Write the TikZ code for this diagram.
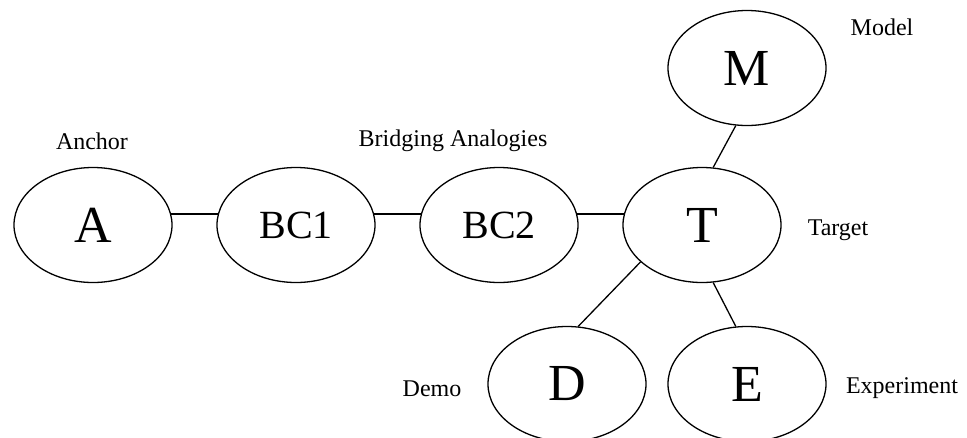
\documentclass[tikz,border=0pt]{standalone}
\usepackage{fontspec}
\setmainfont{Liberation Serif}
\usetikzlibrary{shapes.geometric}

\tikzset{
  blob/.style={draw, ellipse, line width=1.3pt, minimum width=158pt, minimum height=115pt, inner sep=0pt},
  bigtxt/.style={font=\fontsize{52}{56}\selectfont},
  midtxt/.style={font=\fontsize{40}{44}\selectfont},
  tag/.style={font=\fontsize{24}{28}\selectfont},
  link/.style={line width=1.3pt}
}

\begin{document}
\begin{tikzpicture}[x=1pt,y=-1pt]
        \useasboundingbox (0,0) rectangle (967,437);
        % ellipses
        \node[blob,bigtxt] (A) at (93,225) {A};
        \node[blob,midtxt] (BC1) at (296,225) {BC1};
        \node[blob,midtxt] (BC2) at (499,225) {BC2};
        \node[blob,bigtxt] (T) at (702,225) {T};
        \node[blob,bigtxt] (M) at (747,68) {M};
        \node[blob,bigtxt] (D) at (567,384) {D};
        \node[blob,bigtxt] (E) at (747,384) {E};
        % links
        \draw[link] (A.8) -- (BC1.172);
        \draw[link] (BC1.8) -- (BC2.172);
        \draw[link] (BC2.8) -- (T.172);
        \draw[link] (T.79) -- (M.259);
        \draw[link] (T.211) -- (D.79);
        \draw[link] (T.281) -- (E.101);
        % text
        \node[tag] (anchor) at (92,141) {Anchor};
        \node[tag] (bridge) at (453,141) {Bridging Analogies};
        \node[tag] (model) at (882,27) {Model};
        \node[tag] (target) at (838,230) {Target};
        \node[tag] (demo) at (432,389) {Demo};
        \node[tag] (expt) at (902,388) {Experiment};
\end{tikzpicture}
\end{document}
